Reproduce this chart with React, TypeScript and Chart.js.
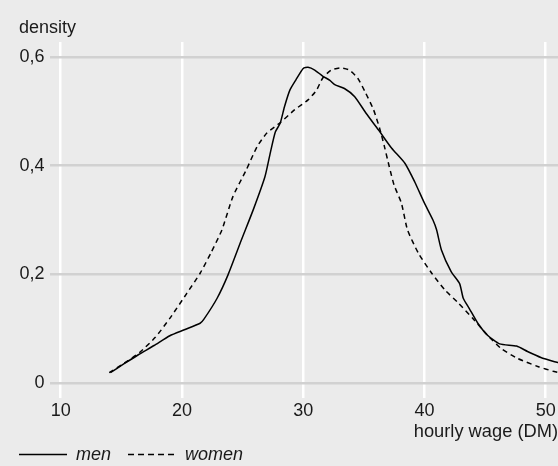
import { useEffect, useRef } from "react";
import { Chart, registerables } from "chart.js";

Chart.register(...registerables);

const menWage = [14.1, 15.2, 16.4, 17.7, 19.0, 20.2, 21.5, 21.8, 22.9, 23.8, 24.9, 25.9, 26.85, 27.3, 27.7, 28.1, 28.45, 28.9, 29.4, 30.0, 30.4, 30.95, 31.6, 32.2, 32.6, 33.4, 34.25, 35.2, 36.2, 37.3, 38.4, 39.2, 40.0, 40.7, 41.0, 41.4, 42.2, 42.9, 43.2, 43.7, 44.4, 45.2, 46.2, 47.6, 48.5, 49.6, 50.74, 51.1];
const menDensity = [0.019, 0.035, 0.052, 0.069, 0.087, 0.098, 0.11, 0.117, 0.156, 0.199, 0.263, 0.32, 0.38, 0.425, 0.462, 0.478, 0.508, 0.539, 0.558, 0.579, 0.581, 0.576, 0.565, 0.557, 0.549, 0.542, 0.527, 0.496, 0.466, 0.432, 0.404, 0.37, 0.331, 0.3, 0.282, 0.245, 0.205, 0.183, 0.156, 0.137, 0.11, 0.088, 0.072, 0.068, 0.058, 0.047, 0.039, 0.037];

const womenWage = [14.0, 15.2, 16.5, 17.8, 19.0, 20.4, 21.5, 22.4, 23.3, 24.2, 25.3, 26.2, 27.0, 28.1, 29.3, 30.4, 31.1, 31.6, 32.3, 33.1, 33.8, 34.5, 35.1, 35.8, 36.3, 36.7, 37.1, 37.5, 38.1, 38.6, 39.5, 40.6, 41.7, 42.8, 44.1, 45.2, 46.3, 47.7, 49.4, 50.7, 51.1];
const womenDensity = [0.019, 0.036, 0.056, 0.084, 0.119, 0.165, 0.202, 0.24, 0.282, 0.343, 0.392, 0.435, 0.46, 0.479, 0.503, 0.521, 0.539, 0.561, 0.576, 0.58, 0.576, 0.561, 0.536, 0.503, 0.469, 0.435, 0.398, 0.364, 0.331, 0.282, 0.239, 0.202, 0.171, 0.147, 0.116, 0.088, 0.064, 0.045, 0.03, 0.021, 0.019];

const seriesNames = ["men", "women"];
const xTicks = [10, 20, 30, 40, 50];
const yTicks = [0, 0.2, 0.4, 0.6];
const yTickLabels = ["0", "0,2", "0,4", "0,6"];
const xTitle = "hourly wage (DM)";
const yTitle = "density";

const FONT = "'Liberation Sans', Arial, Helvetica, sans-serif";
const BG = "#ebebeb";
const TEXT = "#1a1a1a";

export default function App() {
  const ref = useRef<HTMLCanvasElement | null>(null);

  useEffect(() => {
    const canvas = ref.current;
    if (!canvas) return;

    const bgPlugin = {
      id: "bgAndLabel",
      beforeDraw(chart: any) {
        const ctx = chart.ctx;
        ctx.save();
        ctx.fillStyle = BG;
        ctx.fillRect(0, 0, chart.width, chart.height);
        ctx.restore();
      },
      afterDraw(chart: any) {
        const ctx = chart.ctx;
        ctx.save();
        ctx.fillStyle = TEXT;
        ctx.font = `18px ${FONT}`;
        ctx.textAlign = "left";
        ctx.textBaseline = "alphabetic";
        ctx.fillText(yTitle, 19, 33.3);
        ctx.restore();
      },
    };

    const chart = new Chart(canvas, {
      type: "line",
      data: {
        datasets: [
          {
            label: seriesNames[0],
            data: menWage.map((x, i) => ({ x, y: menDensity[i] })),
            borderColor: "#000",
            borderWidth: 1.5,
            pointRadius: 0,
            tension: 0.2,
            fill: false,
          },
          {
            label: seriesNames[1],
            data: womenWage.map((x, i) => ({ x, y: womenDensity[i] })),
            borderColor: "#000",
            borderWidth: 1.5,
            borderDash: [5, 4],
            pointRadius: 0,
            tension: 0.2,
            fill: false,
          },
        ],
      },
      options: {
        animation: false,
        responsive: false,
        devicePixelRatio: 1,
        events: [],
        layout: { padding: { top: 42, left: 2, right: 0, bottom: 0 } },
        plugins: {
          tooltip: { enabled: false },
          title: { display: false },
          legend: {
            display: true,
            position: "bottom",
            align: "start",
            maxHeight: 37.5,
            labels: {
              usePointStyle: true,
              pointStyle: "line",
              pointStyleWidth: 48,
              padding: 17,
              color: TEXT,
              font: { size: 18, style: "italic", family: FONT },
              generateLabels: () =>
                seriesNames.map((n, i) => ({
                  text: n,
                  strokeStyle: "#000",
                  fillStyle: "#000",
                  fontColor: TEXT,
                  lineWidth: 1.5,
                  lineDash: i === 1 ? [6, 4] : [],
                  pointStyle: "line",
                  datasetIndex: i,
                  hidden: false,
                })),
            },
          },
        },
        scales: {
          x: {
            type: "linear",
            min: 9.1175,
            max: 51.014,
            afterBuildTicks: (s: any) => {
              s.ticks = xTicks.map((v) => ({ value: v }));
            },
            afterFit: (s: any) => {
              s.height = 30.5;
              s.paddingLeft = 0;
              s.paddingRight = 0;
            },
            ticks: {
              autoSkip: false,
              maxRotation: 0,
              padding: 2,
              color: TEXT,
              font: { size: 18, family: FONT },
              callback: (v: any) => String(v),
            },
            grid: { color: "#ffffff", lineWidth: 2.5, drawTicks: false },
            border: { display: false },
            title: {
              display: true,
              text: xTitle,
              align: "end",
              color: TEXT,
              font: { size: 18.3, family: FONT },
              padding: { top: 0, bottom: -14.5 },
            },
          },
          y: {
            type: "linear",
            min: -0.02761,
            max: 0.62761,
            afterBuildTicks: (s: any) => {
              s.ticks = yTicks.map((v) => ({ value: v }));
            },
            afterFit: (s: any) => {
              s.width = 48;
              s.paddingTop = 0;
              s.paddingBottom = 0;
            },
            ticks: {
              padding: 5.5,
              color: TEXT,
              font: { size: 18, family: FONT },
              callback: (v: any) => {
                const idx = yTicks.findIndex((t) => Math.abs(t - v) < 1e-9);
                return idx >= 0 ? yTickLabels[idx] : "";
              },
            },
            grid: { color: "#d1d1d1", lineWidth: 2.5, drawTicks: false, z: -1 },
            border: { display: false },
          },
        },
      },
      plugins: [bgPlugin],
    } as any);

    return () => chart.destroy();
  }, []);

  return (
    <div style={{ position: "absolute", left: 0, top: 0, width: 558, height: 466, background: BG }}>
      <canvas ref={ref} width={558} height={466} style={{ display: "block" }} />
    </div>
  );
}
